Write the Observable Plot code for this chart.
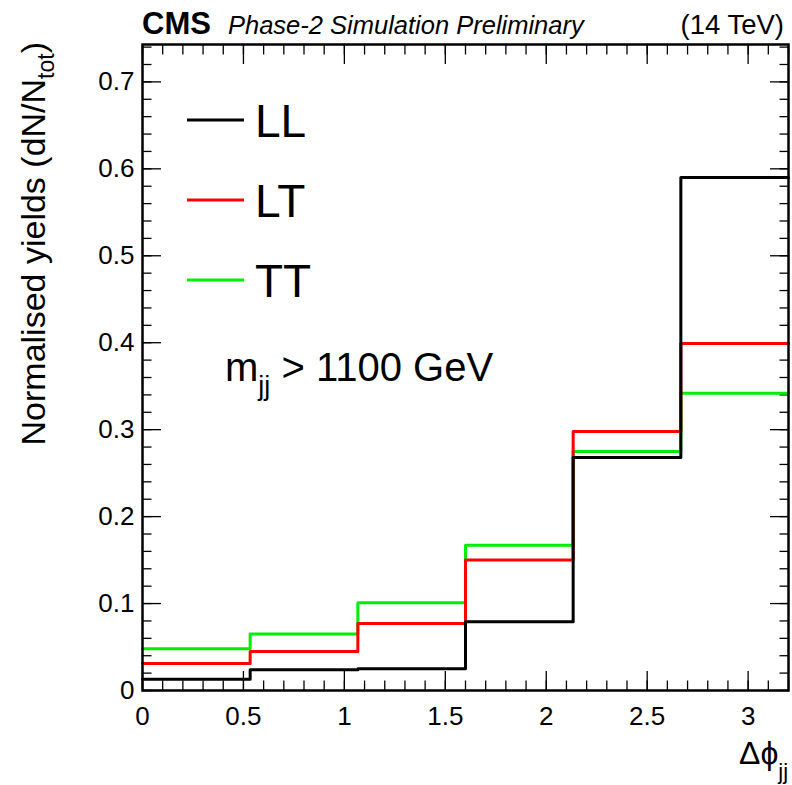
<!DOCTYPE html>
<html>
<head>
<meta charset="utf-8">
<script src="https://cdn.jsdelivr.net/npm/d3@7"></script>
<script src="https://cdn.jsdelivr.net/npm/@observablehq/plot@0.6"></script>
<style>
  html, body { margin: 0; padding: 0; background: #fff; }
  #chart { width: 792px; height: 785px; }
</style>
</head>
<body>
<div id="chart"></div>
<script>
// ---- data ----
const binEdges = [0, 0.5333, 1.0667, 1.6, 2.1333, 2.6667, 3.2];
const seriesNames = ["LL", "LT", "TT"];
const seriesColors = ["#000000", "#ff0000", "#00ee00"];
const valuesLL = [0.013, 0.024, 0.025, 0.079, 0.268, 0.590];
const valuesLT = [0.031, 0.045, 0.077, 0.150, 0.298, 0.399];
const valuesTT = [0.048, 0.065, 0.101, 0.167, 0.275, 0.342];
const xMajorTicks = [0, 0.5, 1, 1.5, 2, 2.5, 3];
const yMajorTicks = [0, 0.1, 0.2, 0.3, 0.4, 0.5, 0.6, 0.7];
const xDomain = [0, 3.2];
const yDomain = [0, 0.743];

const xMinorTicks = d3.range(0, 33).map(i => i / 10).filter(v => v <= 3.2);
const yMinorTicks = d3.range(0, 38).map(i => i * 0.02).filter(v => v <= 0.743);

function steps(name, vals) {
  const pts = vals.map((v, i) => ({series: name, x: binEdges[i], y: v}));
  pts.push({series: name, x: binEdges[binEdges.length - 1], y: vals[vals.length - 1]});
  return pts;
}
const allSeries = {LL: valuesLL, LT: valuesLT, TT: valuesTT};
const drawOrder = ["TT", "LT", "LL"];

const font = "'Liberation Sans', Arial, Helvetica, sans-serif";

const marks = [];
// minor & major inward ticks on all four sides
for (const anchor of ["bottom", "top"]) {
  marks.push(Plot.axisX({anchor, ticks: xMinorTicks, tickSize: -9.5, tickFormat: () => "", strokeWidth: 1.3, label: null}));
  marks.push(Plot.axisX({anchor, ticks: xMajorTicks, tickSize: -19, tickFormat: () => "", strokeWidth: 1.3, label: null}));
}
for (const anchor of ["left", "right"]) {
  marks.push(Plot.axisY({anchor, ticks: yMinorTicks, tickSize: -9.5, tickFormat: () => "", strokeWidth: 1.3, label: null}));
  marks.push(Plot.axisY({anchor, ticks: yMajorTicks, tickSize: -19, tickFormat: () => "", strokeWidth: 1.3, label: null}));
}
// tick labels
marks.push(Plot.axisX({anchor: "bottom", ticks: xMajorTicks, tickSize: 0, tickPadding: 16, fontSize: 26, tickFormat: d => String(d), label: null}));
marks.push(Plot.axisY({anchor: "left", ticks: yMajorTicks, tickSize: 0, tickPadding: 8, fontSize: 26, tickFormat: d => d === 0 ? "0" : d.toFixed(1), label: null}));

for (const name of drawOrder) {
  const color = seriesColors[seriesNames.indexOf(name)];
  marks.push(Plot.line(steps(name, allSeries[name]), {x: "x", y: "y", curve: "step-after", stroke: color, strokeWidth: 3}));
}
marks.push(Plot.frame({stroke: "#000", strokeWidth: 2.5}));

const svg = Plot.plot({
  width: 792,
  height: 785,
  marginLeft: 142,
  marginRight: 4,
  marginTop: 44,
  marginBottom: 95,
  style: {fontFamily: font, fontSize: "26px", color: "#000", background: "#fff"},
  x: {domain: xDomain, axis: null},
  y: {domain: yDomain, axis: null},
  marks
});
document.getElementById("chart").appendChild(svg);

const s = d3.select(svg);
const g = s.append("g").attr("font-family", font).attr("fill", "#000").attr("text-anchor", "start");

// header
g.append("text").attr("x", 142).attr("y", 34).attr("font-size", 31).attr("font-weight", "bold").text("CMS");
g.append("text").attr("x", 228).attr("y", 34).attr("font-size", 25.5).attr("font-style", "italic").text("Phase-2 Simulation Preliminary");
g.append("text").attr("x", 784).attr("y", 34).attr("font-size", 27.5).attr("text-anchor", "end").text("(14 TeV)");

// y axis title
const yt = g.append("text").attr("transform", "translate(45,42) rotate(-90)").attr("text-anchor", "end").attr("font-size", 34);
yt.append("tspan").text("Normalised yields (dN/N");
yt.append("tspan").attr("font-size", 23).attr("dy", 9).text("tot");
yt.append("tspan").attr("dy", -9).text(")");

// x axis title
const xt = g.append("text").attr("x", 739).attr("y", 764).attr("font-size", 32);
xt.append("tspan").text("\u0394\u03D5");
xt.append("tspan").attr("font-size", 22).attr("dy", 15).text("jj");

// legend
const legendY = [137, 217, 297];
seriesNames.forEach((name, i) => {
  g.append("line").attr("x1", 187).attr("x2", 244).attr("y1", legendY[i] - 17).attr("y2", legendY[i] - 17)
    .attr("stroke", seriesColors[i]).attr("stroke-width", 3);
  g.append("text").attr("x", 255).attr("y", legendY[i]).attr("font-size", 46).text(name);
});

// annotation
const ann = g.append("text").attr("x", 225).attr("y", 381).attr("font-size", 40);
ann.append("tspan").text("m");
ann.append("tspan").attr("font-size", 27).attr("dy", 14).text("jj");
ann.append("tspan").attr("dy", -14).text(" > 1100 GeV");
</script>
</body>
</html>
